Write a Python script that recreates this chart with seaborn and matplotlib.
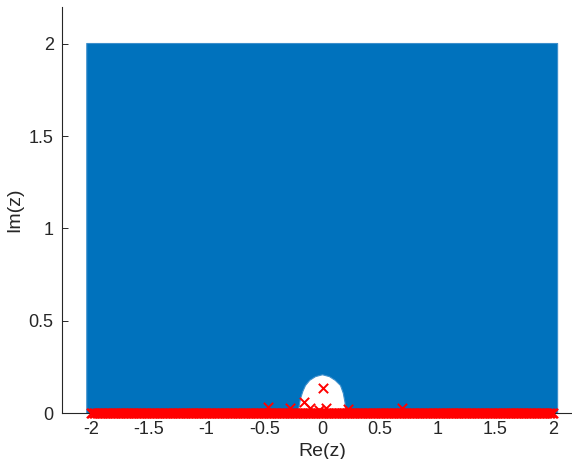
import numpy as np
import matplotlib
matplotlib.use("Agg")
import matplotlib.pyplot as plt
import seaborn as sns

# white hole near the origin (profile of the lower edge of the blue region)
hole_x = [-2.04, -0.21, -0.205, -0.19, -0.17, -0.147, -0.11, -0.06, 0.0, 0.06, 0.11, 0.156, 0.18, 0.195, 0.2, 2.035]
hole_y = [0.0, 0.0, 0.03, 0.081, 0.12, 0.152, 0.18, 0.2, 0.21, 0.2, 0.18, 0.152, 0.11, 0.06, 0.0, 0.0]
top_y = 2.005

# eigenvalues on the real axis (dense band) and a few off-axis ones
real_n = 321
real_x = np.linspace(-2, 2, real_n)
off_x = [0.01, -0.156, -0.1, 0.035, -0.28, 0.225, -0.465, 0.69, -0.03]
off_y = [0.137, 0.061, 0.025, 0.027, 0.029, 0.02, 0.03, 0.025, 0.015]

x_ticks = [-2, -1.5, -1, -0.5, 0, 0.5, 1, 1.5, 2]
x_labels = ["-2", "-1.5", "-1", "-0.5", "0", "0.5", "1", "1.5", "2"]
y_ticks = [0, 0.5, 1, 1.5, 2]
y_labels = ["0", "0.5", "1", "1.5", "2"]

sns.set_style("ticks")
plt.rcParams["font.family"] = ["Liberation Sans", "DejaVu Sans"]

fig = plt.figure(figsize=(5.72, 4.59), dpi=100)
ax = fig.add_axes([0.1084, 0.1002, 0.909, 0.8845])

blue = "#0072BD"
ax.fill_between(hole_x, hole_y, top_y, color=blue, linewidth=0.8, edgecolor="#3d8fcc", zorder=1)

pts_x = list(real_x) + off_x
pts_y = [0.0] * real_n + off_y
sns.scatterplot(x=pts_x, y=pts_y, marker="x", color="#FF0000", s=45, linewidth=1.4, ax=ax, zorder=3, clip_on=False)

ax.set_xlim(-2.25, 2.25)
ax.set_ylim(0, 2.2)
ax.set_xticks(x_ticks)
ax.set_xticklabels(x_labels)
ax.set_yticks(y_ticks)
ax.set_yticklabels(y_labels)
ax.tick_params(direction="in", length=4, width=0.7, colors="#262626", labelsize=13, pad=6)
for side in ["top", "right"]:
    ax.spines[side].set_visible(False)
for side in ["left", "bottom"]:
    ax.spines[side].set_color("#262626")
    ax.spines[side].set_linewidth(0.8)
ax.set_xlabel("Re(z)", fontsize=14, color="#262626", labelpad=3)
ax.set_ylabel("Im(z)", fontsize=14, color="#262626", labelpad=4)

fig.savefig("out.png", dpi=100)
